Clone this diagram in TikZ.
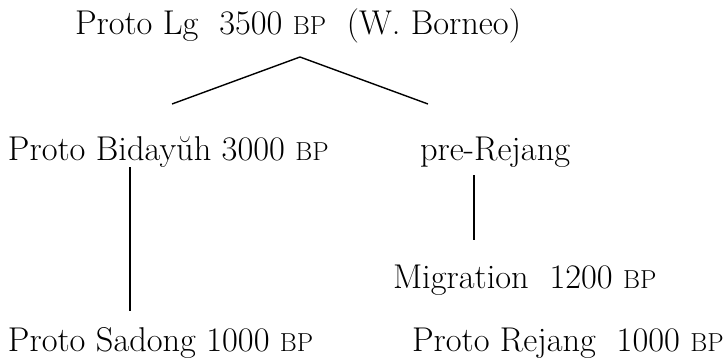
\documentclass[tikz,border=0pt]{standalone}
\usepackage{fontspec}
\setmainfont{Latin Modern Roman}
% small capitals drawn as reduced capitals
\newcommand{\bpmark}{{\fontsize{26}{31}\selectfont BP}}
\begin{document}
\begin{tikzpicture}[x=1pt,y=-1pt,
  lbl/.style={anchor=base west,inner sep=0pt,outer sep=0pt,
    font=\fontsize{34.4}{41}\selectfont},
  branch/.style={line width=1.4pt}]
\useasboundingbox (0,0) rectangle (727,362);
% labels of the family tree
\node[lbl] (top) at (75,34) {Proto Lg\ \ 3500 \bpmark\ \ (W. Borneo)};
\node[lbl] (bid) at (8,160) {Proto Bidayŭh 3000 \bpmark};
\node[lbl] (pre) at (420,160) {pre-Rejang};
\node[lbl] (mig) at (393,288) {Migration\ \ 1200 \bpmark};
\node[lbl] (sad) at (8,351) {Proto Sadong 1000 \bpmark};
\node[lbl] (rej) at (412,351) {Proto Rejang\ \ 1000 \bpmark};
% branch points
\coordinate (apex) at (300,57);
\coordinate (lft) at (172,104);
\coordinate (rgt) at (428,104);
\coordinate (bidDown) at (130,167);
\coordinate (sadUp) at (130,311);
\coordinate (preDown) at (474,175);
\coordinate (migUp) at (474,240);
% branches
\draw[branch] (lft) -- (apex) -- (rgt);
\draw[branch] (bidDown) -- (sadUp);
\draw[branch] (preDown) -- (migUp);
\end{tikzpicture}
\end{document}
